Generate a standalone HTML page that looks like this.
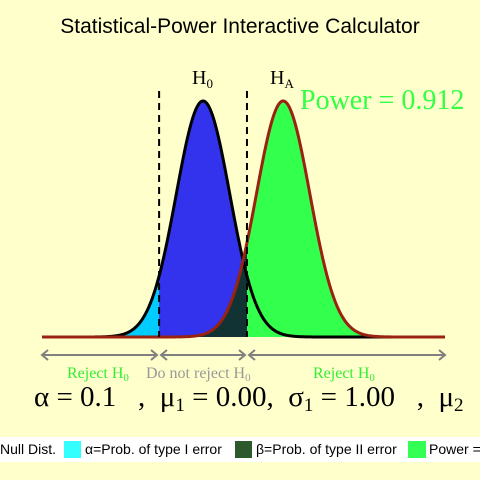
<!DOCTYPE html>
<html><head><meta charset="utf-8"><style>
body{margin:0;background:#ffffcc;}
svg{display:block}
</style></head><body>
<svg id="chart" width="480" height="480" xmlns="http://www.w3.org/2000/svg">
<rect width="480" height="480" fill="#ffffcc"/>
<text x="240" y="33" font-family="Liberation Sans, sans-serif" font-size="21" text-anchor="middle">Statistical-Power Interactive Calculator</text>
<g id="plot"></g>
<g font-family="Liberation Serif, serif" font-size="18">
<text x="192" y="84" font-size="20">H<tspan font-size="13" dy="4">0</tspan></text>
<text x="270" y="84" font-size="20">H<tspan font-size="13" dy="4">A</tspan></text>
<text x="300" y="109" font-size="28" fill="#33ff44">Power = 0.912</text>
</g>
<g stroke="#808080" stroke-width="2" fill="none">
<line x1="42" y1="355" x2="157" y2="355"/><polyline points="48,350 42,355 48,360"/><polyline points="151,350 157,355 151,360"/>
<line x1="161" y1="355" x2="245" y2="355"/><polyline points="167,350 161,355 167,360"/><polyline points="239,350 245,355 239,360"/>
<line x1="249" y1="355" x2="445" y2="355"/><polyline points="255,350 249,355 255,360"/><polyline points="439,350 445,355 439,360"/>
</g>
<g font-family="Liberation Serif, serif" font-size="16">
<text x="67" y="378" fill="#33ee33">Reject H<tspan font-size="11" dy="3">0</tspan></text>
<text x="146" y="378" fill="#999999">Do not reject H<tspan font-size="11" dy="3">0</tspan></text>
<text x="313" y="378" fill="#33ee33">Reject H<tspan font-size="11" dy="3">0</tspan></text>
</g>
<text x="34" y="406" font-family="Liberation Serif, serif" font-size="29" xml:space="preserve">α = 0.1   ,  μ<tspan font-size="19" dy="5">1</tspan><tspan dy="-5"> = 0.00,  σ</tspan><tspan font-size="19" dy="5">1</tspan><tspan dy="-5"> = 1.00   ,  μ</tspan><tspan font-size="19" dy="5">2</tspan></text>
<rect x="0" y="437" width="480" height="25" fill="#ffffff"/>
<g font-family="Liberation Sans, sans-serif" font-size="14">
<text x="0" y="454">Null Dist.</text>
<rect x="64" y="441" width="17" height="17" fill="#33ffff"/>
<text x="85" y="454">α=Prob. of type I error</text>
<rect x="235" y="441" width="17" height="17" fill="#2d5a2d"/>
<text x="256" y="454">β=Prob. of type II error</text>
<rect x="408" y="441" width="18" height="17" fill="#33ff55"/>
<text x="429" y="454">Power =</text>
</g>
</svg>
<script>
const params = ["alpha","mu1","sigma1","mu2"];
const alphaVal = [0.1];
const mu1Val = [0.0];
const sigmaVal = [1.0];
const mu2Val = [3.0];
const xDomain = [-6.03, 9.06];
const yMaxDensity = [0.3989];

const NS="http://www.w3.org/2000/svg";
const g=document.getElementById('plot');
const X0=42,X1=445,Y0=337,YTOP=101;
const sx=v=>X0+(v-xDomain[0])/(xDomain[1]-xDomain[0])*(X1-X0);
const sy=d=>Y0-d/yMaxDensity[0]*(Y0-YTOP);
const pdf=(x,m,s)=>Math.exp(-0.5*((x-m)/s)**2)/(s*Math.sqrt(2*Math.PI));
function qnorm(p){let lo=-10,hi=10;for(let i=0;i<80;i++){const m=(lo+hi)/2;let c=cdf(m);if(c<p)lo=m;else hi=m;}return (lo+hi)/2;}
function cdf(z){let s=0,n=2000,a=-10;const h=(z-a)/n;for(let i=0;i<=n;i++){const x=a+i*h;s+=(i==0||i==n?0.5:1)*Math.exp(-x*x/2);}return s*h/Math.sqrt(2*Math.PI);}
const m1=mu1Val[0],s1=sigmaVal[0],m2=mu2Val[0];
const z=qnorm(1-alphaVal[0]/2);
const cL=m1-z*s1,cR=m1+z*s1;
function area(a,b,m,fill,name){let d=`M${sx(a)},${Y0}`;const n=200;for(let i=0;i<=n;i++){const x=a+(b-a)*i/n;d+=`L${sx(x).toFixed(2)},${sy(pdf(x,m,s1)).toFixed(2)}`;}d+=`L${sx(b)},${Y0}Z`;
const p=document.createElementNS(NS,'path');p.setAttribute('d',d);p.setAttribute('fill',fill);


g.appendChild(p);}
function curve(m,stroke,name){let d='';const n=400;for(let i=0;i<=n;i++){const x=xDomain[0]+(xDomain[1]-xDomain[0])*i/n;d+=(i?'L':'M')+sx(x).toFixed(2)+','+sy(pdf(x,m,s1)).toFixed(2);}
const p=document.createElementNS(NS,'path');p.setAttribute('d',d);p.setAttribute('fill','none');p.setAttribute('stroke',stroke);p.setAttribute('stroke-width','3');


g.appendChild(p);}
area(xDomain[0],cL,m1,'#00ccff','alpha-left-area');
area(cL,cR,m1,'#3333ee','null-accept-area');
area(cR,xDomain[1],m1,'#00ff55','alpha-right-area');
area(cR,xDomain[1],m2,'#33ff4d','power-area');
area(cL,cR,m2,'#113333','beta-area');
curve(m1,'#000000','null-curve');
curve(m2,'#992211','alt-curve');
[cL,cR].forEach((c,i)=>{const l=document.createElementNS(NS,'line');l.setAttribute('x1',sx(c));l.setAttribute('x2',sx(c));l.setAttribute('y1',91);l.setAttribute('y2',Y0);l.setAttribute('stroke','#000');l.setAttribute('stroke-width','2');l.setAttribute('stroke-dasharray','7,5');


g.appendChild(l);});
</script>
</body></html>
